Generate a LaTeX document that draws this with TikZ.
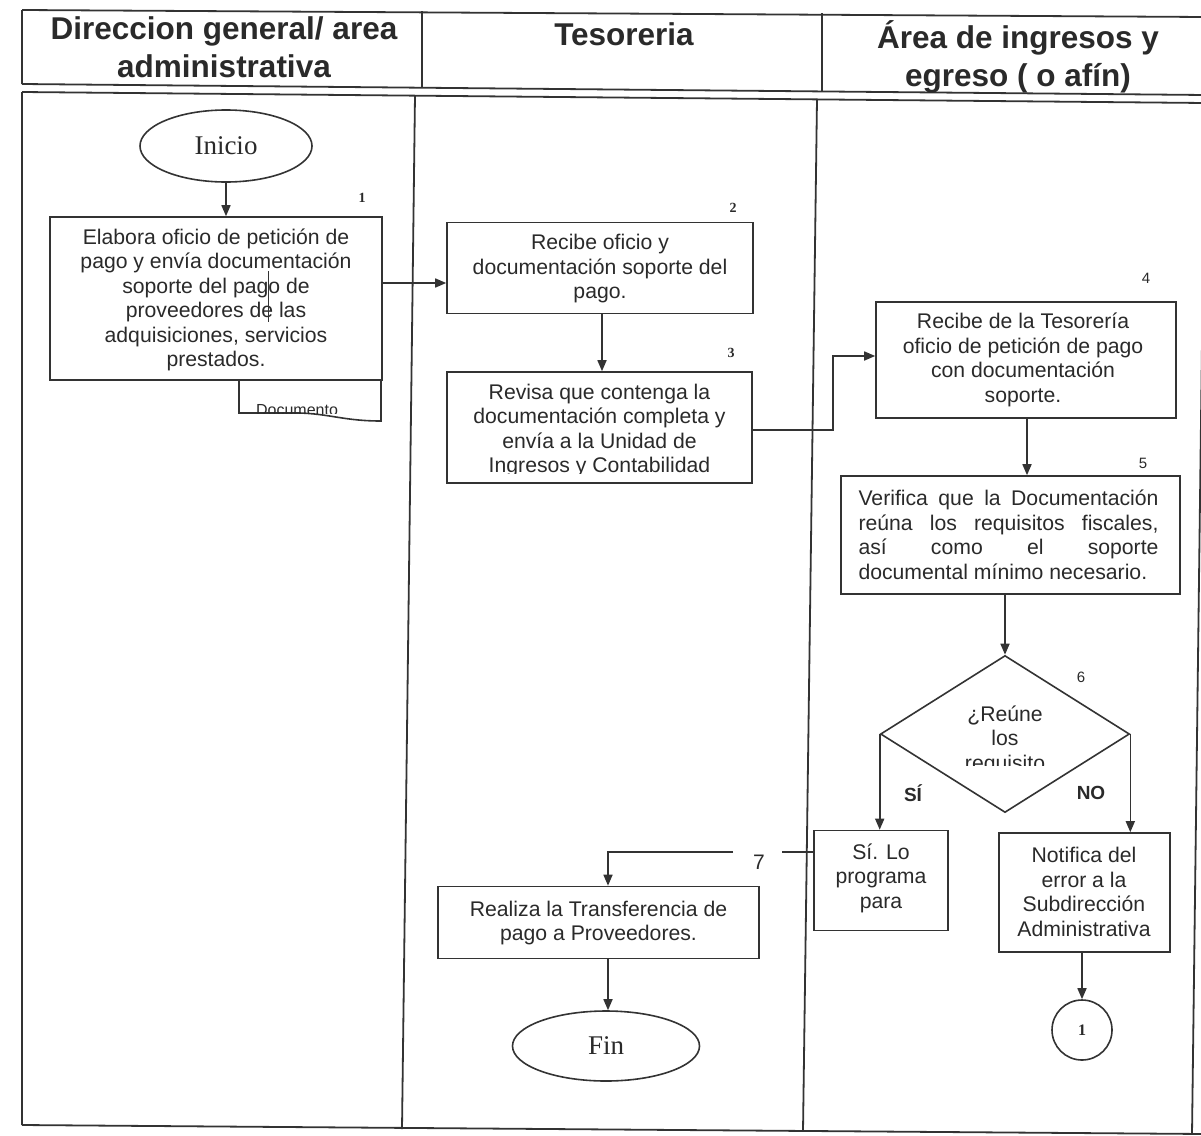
\documentclass[tikz,border=0pt]{standalone}
\usepackage{fontspec}
\setmainfont{Liberation Sans}
\newfontfamily\arialf{Liberation Sans}
\newfontfamily\timesf{Liberation Serif}
\usetikzlibrary{shapes.geometric,arrows.meta}
\definecolor{linec}{HTML}{333333}
\definecolor{txtc}{HTML}{2A2A2A}
\newcommand{\jline}[1]{\makebox[300pt][l]{#1}}
\begin{document}
\begin{tikzpicture}[x=1pt,y=-1pt,
  frame/.style={draw=linec,line width=1.8pt},
  box/.style={draw=linec,line width=1.6pt,rectangle,inner sep=0pt},
  btxt/.style={text=txtc,align=center,inner sep=0pt,font=\arialf\fontsize{21.2}{24.5}\selectfont},
  htxt/.style={text=txtc,align=center,inner sep=0pt,font=\arialf\bfseries\fontsize{31.5}{38}\selectfont},
  term/.style={draw=linec,line width=1.6pt,ellipse,inner sep=0pt,text=txtc,font=\timesf\fontsize{27}{30}\selectfont},
  nums/.style={text=txtc,inner sep=0pt,font=\timesf\bfseries\fontsize{14}{16}\selectfont},
  numa/.style={text=txtc,inner sep=0pt,font=\arialf\fontsize{15}{17}\selectfont},
  yn/.style={text=txtc,inner sep=0pt,font=\arialf\bfseries\fontsize{19}{21}\selectfont},
  arr/.style={draw=linec,line width=1.6pt,-{Triangle[length=11pt,width=9pt]}},
  conn/.style={draw=linec,line width=1.6pt}]
\useasboundingbox (0,0) rectangle (1201,1135);
\fill[white] (0,0) rectangle (1201,1135);
% header
\draw[frame] (22,10) -- (1205,17);
\draw[frame] (22,10) -- (22,84);
\draw[frame] (22,84) -- (1205,95);
\draw[frame] (422,11) -- (422,87);
\draw[frame] (822,13) -- (822,91);
\node[htxt] (h1) at (224,47) {Direccion general/ area\\administrativa};
\node[htxt] (h2) at (624,34) {Tesoreria};
\node[htxt] (h3) at (1018,57) {Área de ingresos y\\egreso ( o afín)};
% body frame
\draw[frame] (22,92) -- (1205,103);
\draw[frame] (22,92) -- (22,1125);
\draw[frame] (22,1125) -- (1205,1134);
\draw[frame] (1205,103) -- (1192,1134);
\draw[frame] (415,95) -- (402,1129);
\draw[frame] (817,99) -- (803,1131);
% nodes
\node[term,minimum width=172pt,minimum height=72pt] (inicio) at (226,146) {Inicio};
\node[box,minimum width=332pt,minimum height=163pt] (s1) at (216,298.5) {};
\node[btxt] (s1t) at (216,300) {Elabora oficio de petición de\\pago y envía documentación\\soporte del pago de\\proveedores de las\\adquisiciones, servicios\\prestados.};
\draw[draw=linec,line width=1pt] (268,271) -- (268,322);
\draw[conn] (239,380) -- (239,413) -- (300,413) .. controls (330,414) and (345,421) .. (381,421) -- (381,380);
\begin{scope}
\clip (240,381) rectangle (380,413.5);
\node[text=txtc,inner sep=0pt,font=\arialf\fontsize{16}{18}\selectfont] (doct) at (297,410) {Documento};
\end{scope}
\node[box,minimum width=306pt,minimum height=91pt] (s2) at (600,268) {};
\node[btxt] (s2t) at (600,269) {Recibe oficio y\\documentación soporte del\\pago.};
\node[box,minimum width=305pt,minimum height=111pt] (s3) at (599.5,427.5) {};
\begin{scope}
\clip (448,374) rectangle (751,473);
\node[btxt] (s3t) at (599.5,430.5) {Revisa que contenga la\\documentación completa y\\envía a la Unidad de\\Ingresos y Contabilidad};
\end{scope}
\node[box,minimum width=300pt,minimum height=116pt] (s4) at (1026,360) {};
\node[btxt] (s4t) at (1023,360) {Recibe de la Tesorería\\oficio de petición de pago\\con documentación\\soporte.};
\node[box,minimum width=339pt,minimum height=118pt] (s5) at (1010.5,535) {};
\node[btxt,align=left] (s5t) at (1008.5,535) {\jline{Verifica\hfill que\hfill la\hfill Documentación}\\\jline{reúna\hfill los\hfill requisitos\hfill fiscales,}\\\jline{así\hfill como\hfill el\hfill soporte}\\\jline{documental mínimo necesario.}};
\node[draw=linec,line width=1.6pt,diamond,inner sep=0pt,minimum width=249pt,minimum height=157pt] (d6) at (1005,734) {};
\begin{scope}
\clip (900,690) rectangle (1110,765);
\node[btxt] (d6t) at (1005,740) {¿Reúne\\los\\requisito};
\end{scope}
\node[box,minimum width=134pt,minimum height=100pt] (sip) at (881,880.5) {};
\node[btxt] (sipt) at (881,878) {Sí. Lo\\programa\\para};
\node[box,minimum width=171pt,minimum height=119pt] (notif) at (1084.5,892.5) {};
\node[btxt] (notift) at (1084,892) {Notifica del\\error a la\\Subdirección\\Administrativa};
\node[draw=linec,line width=1.6pt,circle,inner sep=0pt,minimum size=60pt,text=txtc,font=\timesf\bfseries\fontsize{16}{18}\selectfont] (circ) at (1082,1030) {1};
\node[box,minimum width=321pt,minimum height=72pt] (realiza) at (598.5,922.5) {};
\node[btxt] (realizat) at (598.5,923) {Realiza la Transferencia de\\pago a Proveedores.};
\node[term,minimum width=187pt,minimum height=70pt] (fin) at (606,1046) {Fin};
% step numbers
\node[nums] (n1) at (362,198) {1};
\node[nums] (n2) at (733,208) {2};
\node[nums] (n3) at (731,353) {3};
\node[numa] (n4) at (1146,278) {4};
\node[numa] (n5) at (1143,463) {5};
\node[numa] (n6) at (1081,677) {6};
\node[text=txtc,inner sep=0pt,font=\arialf\fontsize{21}{23}\selectfont] (n7) at (759,862) {7};
\node[yn] (lsi) at (913,793) {SÍ};
\node[yn] (lno) at (1091,793) {NO};
% connectors
\draw[arr] (inicio.south) -- (inicio.south |- s1.north);
\draw[arr] (s1.east |- 0,283) -- (s2.west |- 0,283);
\draw[arr] (s2.south -| 602,0) -- (s3.north -| 602,0);
\coordinate (j34) at (833,430);
\draw[arr] (s3.east |- j34) -- (j34) |- (s4.west |- 0,356);
\draw[arr] (s4.south -| 1027,0) -- (s5.north -| 1027,0);
\draw[arr] (s5.south -| d6.north) -- (d6.north);
\draw[arr] (d6.west) -- (d6.west |- sip.north);
\draw[arr] (d6.east) -- (d6.east |- notif.north);
\draw[arr] (circ.north |- notif.south) -- (circ.north);
\coordinate (c7a) at (782,852);
\coordinate (c7b) at (733,852);
\draw[conn] (sip.west |- c7a) -- (c7a);
\draw[arr] (c7b) -| (realiza.north -| 608,0);
\draw[arr] (realiza.south -| 608,0) -- (fin.north -| 608,0);
\end{tikzpicture}
\end{document}
